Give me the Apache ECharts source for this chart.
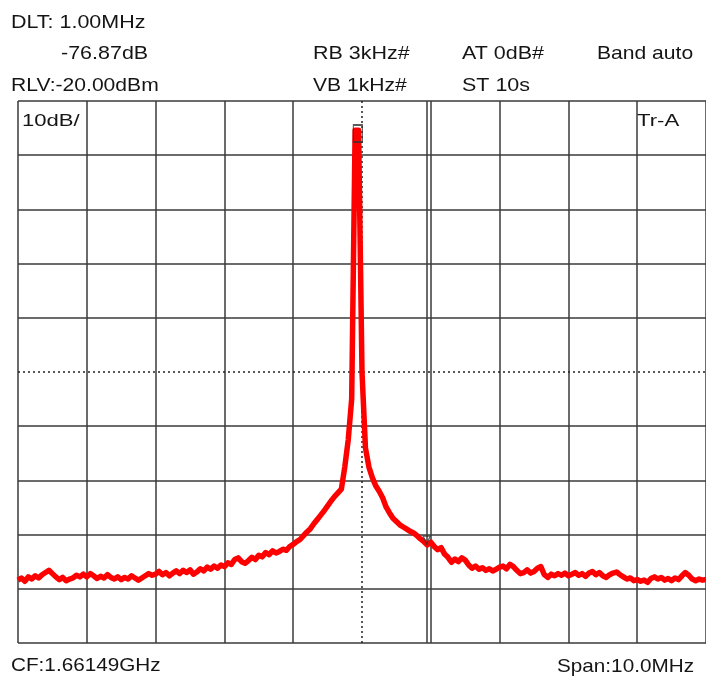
<!DOCTYPE html>
<html><head><meta charset="utf-8">
<script src="https://cdn.jsdelivr.net/npm/echarts@6/dist/echarts.min.js"></script>
<style>html,body{margin:0;padding:0;background:#fff}#c{width:706px;height:677px}</style>
</head><body><div id="c"></div>
<script>
// Sweep frequencies (offset from CF, MHz)
const freqMHz = [
-5.00,-4.95,-4.90,-4.85,-4.80,-4.75,-4.70,-4.65,-4.60,-4.55,
-4.50,-4.45,-4.40,-4.35,-4.30,-4.25,-4.20,-4.15,-4.10,-4.05,
-4.00,-3.95,-3.90,-3.85,-3.80,-3.75,-3.70,-3.65,-3.60,-3.55,
-3.50,-3.45,-3.40,-3.35,-3.30,-3.25,-3.20,-3.15,-3.10,-3.05,
-3.00,-2.95,-2.90,-2.85,-2.80,-2.75,-2.70,-2.65,-2.60,-2.55,
-2.50,-2.45,-2.40,-2.35,-2.30,-2.25,-2.20,-2.15,-2.10,-2.05,
-2.00,-1.95,-1.90,-1.85,-1.80,-1.75,-1.70,-1.65,-1.60,-1.55,
-1.50,-1.45,-1.40,-1.35,-1.30,-1.25,-1.20,-1.15,-1.10,-1.05,
-1.00,-0.95,-0.90,-0.85,-0.80,-0.75,-0.70,-0.65,-0.60,-0.55,
-0.50,-0.45,-0.40,-0.35,-0.30,-0.25,-0.20,-0.15,-0.10,-0.05,
0.00,0.05,0.10,0.15,0.20,0.25,0.30,0.35,0.40,0.45,
0.50,0.55,0.60,0.65,0.70,0.75,0.80,0.85,0.90,0.95,
1.00,1.05,1.10,1.15,1.20,1.25,1.30,1.35,1.40,1.45,
1.50,1.55,1.60,1.65,1.70,1.75,1.80,1.85,1.90,1.95,
2.00,2.05,2.10,2.15,2.20,2.25,2.30,2.35,2.40,2.45,
2.50,2.55,2.60,2.65,2.70,2.75,2.80,2.85,2.90,2.95,
3.00,3.05,3.10,3.15,3.20,3.25,3.30,3.35,3.40,3.45,
3.50,3.55,3.60,3.65,3.70,3.75,3.80,3.85,3.90,3.95,
4.00,4.05,4.10,4.15,4.20,4.25,4.30,4.35,4.40,4.45,
4.50,4.55,4.60,4.65,4.70,4.75,4.80,4.85,4.90,4.95,
5.00];
// Trace A levels (dBm)
const traceDbm = [
-108.4,-108.0,-108.6,-107.8,-108.2,-107.6,-108.0,-107.4,-107.0,-106.6,
-107.2,-107.8,-108.3,-107.9,-108.5,-108.2,-108.0,-107.5,-107.8,-107.3,
-107.8,-107.2,-107.6,-108.1,-107.7,-108.0,-107.4,-107.9,-108.2,-107.8,
-108.3,-107.9,-108.2,-107.6,-108.0,-108.4,-108.0,-107.6,-107.2,-107.5,
-107.3,-106.8,-107.4,-107.0,-107.6,-107.1,-106.7,-107.2,-106.6,-107.0,
-106.5,-107.3,-106.9,-106.3,-106.7,-106.0,-106.4,-105.8,-106.2,-105.6,
-105.9,-105.2,-105.5,-104.6,-104.3,-105.0,-105.3,-104.8,-104.2,-104.6,
-103.8,-104.1,-103.3,-103.7,-103.0,-103.4,-103.1,-102.7,-102.9,-102.2,
-101.8,-101.3,-100.9,-100.2,-99.5,-98.9,-98.0,-97.2,-96.4,-95.6,
-94.7,-93.8,-93.0,-92.3,-91.6,-87.5,-82.5,-75.0,-25.4,-25.4,
-70.0,-84.0,-87.5,-89.5,-91.0,-92.0,-93.2,-94.9,-96.0,-97.0,
-97.6,-98.2,-98.6,-99.0,-99.4,-99.7,-100.2,-100.8,-101.3,-101.9,
-101.4,-102.2,-102.8,-102.4,-103.6,-104.2,-105.1,-104.5,-105.0,-104.3,
-104.7,-105.6,-106.2,-105.8,-106.4,-106.1,-106.6,-106.3,-106.7,-106.4,
-106.0,-105.8,-106.3,-105.5,-105.9,-106.6,-107.2,-107.0,-106.5,-107.1,
-106.8,-106.2,-105.9,-107.4,-107.9,-107.3,-107.6,-107.2,-107.5,-107.1,
-107.6,-107.3,-107.0,-107.5,-107.2,-107.7,-107.1,-106.8,-107.4,-107.0,
-107.6,-107.9,-107.4,-107.1,-106.9,-107.4,-107.8,-108.2,-108.0,-108.5,
-108.3,-108.6,-108.4,-108.8,-108.1,-107.8,-108.2,-107.9,-108.4,-108.1,
-108.5,-108.0,-108.3,-107.6,-107.0,-107.5,-108.2,-108.5,-108.2,-108.4,
-108.3];
// Markers
const markerFreq = [-0.06];
const markerDbm = [-26.0];
const deltaFreq = [0.94];
const deltaDbm = [-101.0];
// Axis settings
const spanMin = -5, spanMax = 5, divMHz = 1;
const refLevel = -20, bottomLevel = -120, dbPerDiv = 10;

const gridCol = '#3a3a3a';
const xSplitColors = [gridCol,gridCol,gridCol,gridCol,gridCol,'rgba(0,0,0,0)',gridCol,gridCol,gridCol,gridCol,gridCol];
const ySplitColors = xSplitColors.slice();

const chart = echarts.init(document.getElementById('c'), null, {renderer:'canvas'});
const fontFam = '"Liberation Sans", Arial, sans-serif';
function txt(t, x, y, size, sx){
  return {type:'text', x:x, y:y, scaleX:sx, z:100,
    style:{text:t, fill:'#151515', font: size+'px '+fontFam, textVerticalAlign:'middle', textAlign:'left'}};
}
const option = {
  animation:false,
  backgroundColor:'#ffffff',
  grid:{left:18, top:101, width:695, height:542, containLabel:false},
  xAxis:{type:'value', min:spanMin, max:spanMax, interval:divMHz,
    axisLabel:{show:false}, axisTick:{show:false}, axisLine:{show:false},
    splitLine:{show:true, lineStyle:{color:xSplitColors, width:1.5}}},
  yAxis:{type:'value', min:bottomLevel, max:refLevel, interval:dbPerDiv,
    axisLabel:{show:false}, axisTick:{show:false}, axisLine:{show:false},
    splitLine:{show:true, lineStyle:{color:ySplitColors, width:1.5}}},
  series:[
    {type:'line', data:[], z:1, silent:true,
      markLine:{silent:true, symbol:'none', label:{show:false}, animation:false,
        data:[
          {xAxis:0, lineStyle:{color:'#222', width:1.5, type:[2,3]}},
          {yAxis:-70, lineStyle:{color:'#222', width:1.5, type:[2,3]}},
          {xAxis:deltaFreq[0], lineStyle:{color:gridCol, width:1.5, type:'solid'}}
        ]}},
    {type:'line', data: freqMHz.map((f,i)=>[f, traceDbm[i]]), showSymbol:false, z:5,
      lineStyle:{color:'#ff0000', width:5.5, join:'round'}, silent:true},
    {type:'scatter', data: markerFreq.map((f,i)=>[f, markerDbm[i]]), symbol:'rect', symbolSize:[9,17], z:10,
      itemStyle:{color:'rgba(0,0,0,0)', borderColor:'#333', borderWidth:1.5}, silent:true},
    {type:'scatter', data: deltaFreq.map((f,i)=>[f, deltaDbm[i]]), symbol:'triangle', symbolRotate:180, symbolSize:[7,8], z:10,
      itemStyle:{color:'rgba(0,0,0,0)', borderColor:'#333', borderWidth:1.2}, silent:true}
  ],
  graphic:[
    txt('DLT: 1.00MHz', 11, 23, 19, 1.13),
    txt('-76.87dB', 61, 54, 19, 1.13),
    txt('RB 3kHz#', 313, 54, 19, 1.13),
    txt('AT 0dB#', 462, 54, 19, 1.13),
    txt('Band auto', 597, 54, 19, 1.11),
    txt('RLV:-20.00dBm', 11, 86, 19, 1.11),
    txt('VB 1kHz#', 313, 86, 19, 1.11),
    txt('ST 10s', 462, 86, 19, 1.13),
    txt('10dB/', 22, 121, 17, 1.3),
    txt('Tr-A', 637, 121, 17, 1.3),
    txt('CF:1.66149GHz', 11, 666, 19, 1.09),
    txt('Span:10.0MHz', 557, 667, 19, 1.09)
  ]
};
chart.setOption(option);
</script>
</body></html>
